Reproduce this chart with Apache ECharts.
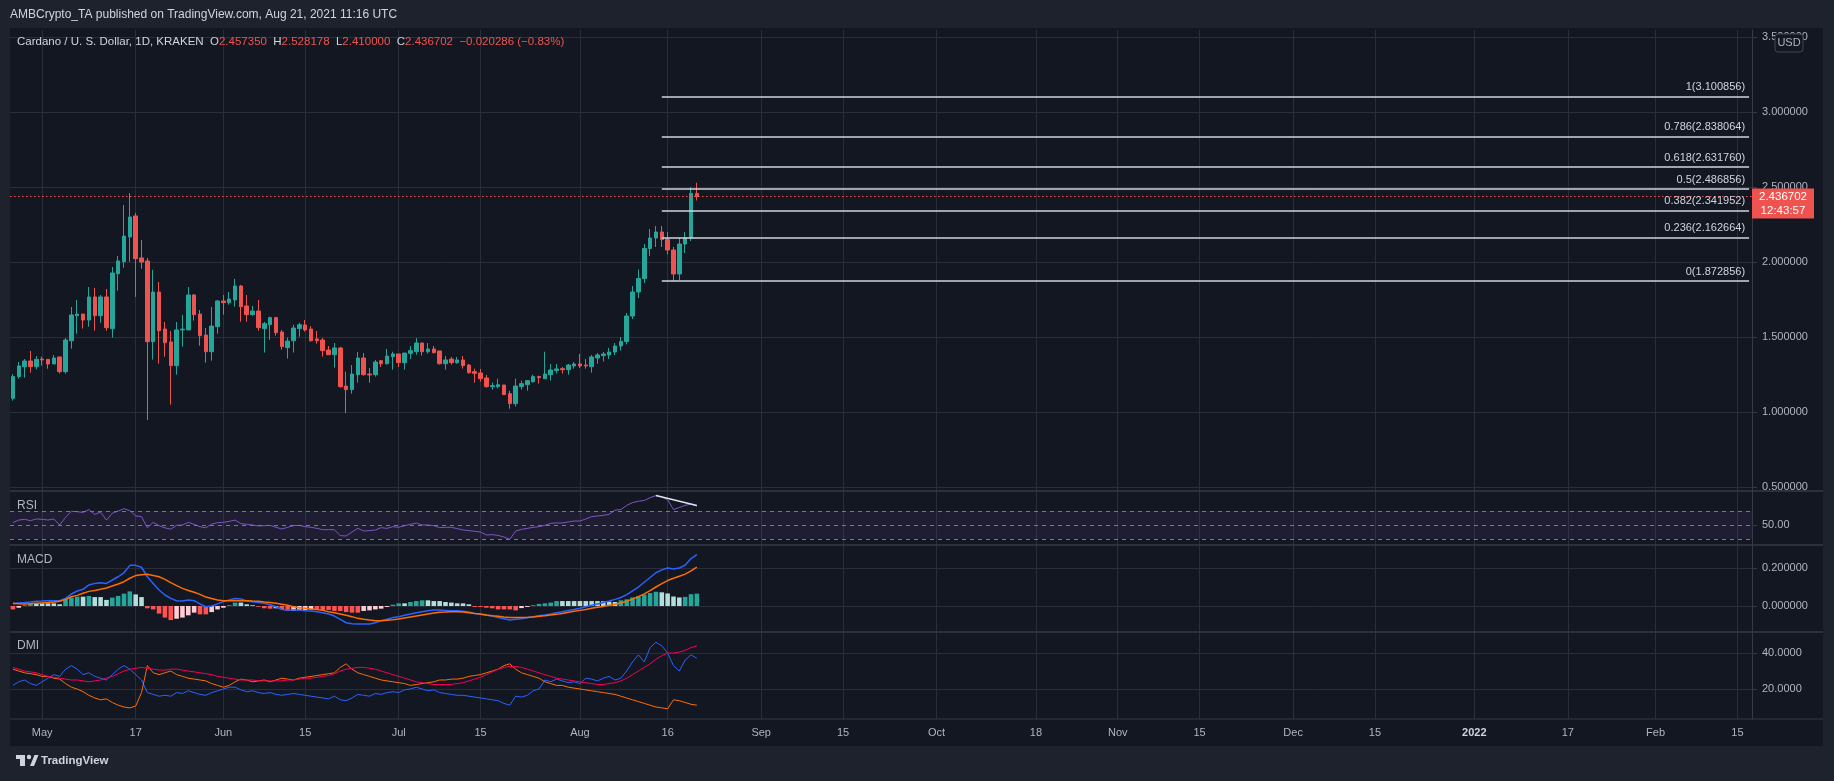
<!DOCTYPE html>
<html><head><meta charset="utf-8">
<script src="https://cdn.jsdelivr.net/npm/echarts@6/dist/echarts.min.js"></script>
<style>html,body{margin:0;padding:0;background:#1e222d;}#c{width:1834px;height:781px;}</style>
</head><body><div id="c"></div><script>
// ---------- DATA ----------
const startDate = '2021-04-26';
const dayCount = 298;
const opens = [1.091,1.236,1.302,1.340,1.302,1.353,1.351,1.320,1.367,1.269,
1.475,1.642,1.653,1.613,1.767,1.642,1.767,1.556,1.922,2.002,
2.167,2.307,2.027,2.007,1.469,1.800,1.553,1.467,1.309,1.547,
1.547,1.780,1.653,1.513,1.402,1.569,1.740,1.729,1.747,1.840,
1.707,1.649,1.673,1.556,1.582,1.629,1.533,1.429,1.475,1.556,
1.580,1.553,1.487,1.480,1.413,1.382,1.427,1.173,1.149,1.249,
1.360,1.253,1.249,1.342,1.322,1.369,1.387,1.329,1.391,1.402,
1.460,1.402,1.420,1.407,1.322,1.353,1.329,1.347,1.313,1.269,
1.260,1.227,1.169,1.169,1.180,1.122,1.056,1.169,1.182,1.202,
1.236,1.222,1.249,1.276,1.289,1.282,1.307,1.320,1.313,1.302,
1.360,1.376,1.380,1.40,1.44,1.47,1.64,1.80,1.89,2.09,
2.16,2.20,2.15,2.08,1.92,2.12,2.16,2.457350];
const closes = [1.236,1.307,1.340,1.302,1.351,1.347,1.320,1.360,1.269,1.480,
1.647,1.653,1.613,1.767,1.642,1.767,1.562,1.927,2.007,2.173,
2.300,2.022,2.000,1.469,1.800,1.542,1.462,1.309,1.547,1.553,
1.780,1.649,1.509,1.402,1.573,1.740,1.729,1.753,1.840,1.702,
1.649,1.673,1.562,1.589,1.629,1.529,1.436,1.473,1.560,1.582,
1.547,1.475,1.475,1.409,1.382,1.427,1.169,1.149,1.253,1.360,
1.249,1.247,1.333,1.322,1.373,1.387,1.329,1.393,1.409,1.460,
1.402,1.420,1.396,1.322,1.347,1.329,1.347,1.309,1.262,1.258,
1.222,1.169,1.176,1.182,1.116,1.056,1.173,1.189,1.209,1.236,
1.229,1.253,1.280,1.287,1.282,1.313,1.320,1.307,1.307,1.367,
1.380,1.387,1.400,1.44,1.47,1.64,1.80,1.89,2.09,2.16,
2.20,2.15,2.08,1.92,2.12,2.16,2.456988,2.436702];
const lows = [1.076,1.222,1.229,1.262,1.284,1.309,1.289,1.320,1.256,1.256,
1.422,1.522,1.556,1.569,1.542,1.595,1.542,1.496,1.809,1.962,
2.002,1.767,1.955,0.947,1.349,1.322,1.369,1.049,1.249,1.436,
1.547,1.609,1.442,1.329,1.342,1.522,1.649,1.716,1.702,1.602,
1.602,1.642,1.542,1.396,1.482,1.509,1.416,1.356,1.396,1.502,
1.536,1.469,1.456,1.369,1.382,1.296,1.162,0.993,1.122,1.196,
1.242,1.196,1.236,1.300,1.316,1.282,1.300,1.282,1.353,1.382,
1.376,1.389,1.389,1.316,1.282,1.316,1.322,1.289,1.256,1.196,
1.202,1.162,1.149,1.156,1.116,1.022,1.036,1.149,1.142,1.196,
1.189,1.222,1.209,1.256,1.256,1.249,1.289,1.293,1.289,1.262,
1.322,1.336,1.353,1.38,1.41,1.45,1.62,1.76,1.86,2.04,
2.10,2.10,2.05,1.872856,1.88,2.06,2.14,2.410000];
const highs = [1.253,1.333,1.353,1.407,1.373,1.369,1.351,1.380,1.367,1.493,
1.700,1.747,1.653,1.833,1.827,1.780,1.820,1.967,2.040,2.380,
2.460,2.327,2.147,2.027,1.947,1.867,1.600,1.540,1.600,1.647,
1.833,1.787,1.680,1.560,1.700,1.747,1.780,1.800,1.887,1.847,
1.780,1.707,1.747,1.600,1.635,1.635,1.547,1.496,1.582,1.595,
1.613,1.573,1.540,1.493,1.440,1.460,1.433,1.269,1.313,1.400,
1.393,1.293,1.347,1.347,1.420,1.402,1.387,1.393,1.440,1.493,
1.460,1.460,1.440,1.407,1.373,1.367,1.367,1.373,1.320,1.289,
1.287,1.247,1.196,1.222,1.180,1.142,1.222,1.209,1.209,1.249,
1.242,1.402,1.320,1.320,1.300,1.320,1.333,1.387,1.353,1.380,
1.393,1.400,1.427,1.46,1.50,1.66,1.84,1.95,2.12,2.22,
2.24,2.24,2.20,2.10,2.16,2.20,2.50,2.528178];
const rsiValues = [53.3,57.1,58.1,56.2,58.6,58.1,57.1,58.6,50,61,
69.5,69,68,72,65,68.5,57,66.7,70,73.3,
70.5,63,62,46,53.8,49,46,44,49.5,50,
53.8,51,47.6,46,51.4,53.3,53.8,55.2,57.1,52,
51,50,48.6,49,49.5,46.7,44.3,46.7,49,49.5,
47.6,46.7,45.2,43.3,43.3,43.3,34.8,34.3,40,45.2,
41.4,42,42.9,46.2,45.2,47.6,46.7,49,51,52.9,
50,50,49,46.2,46.7,46.7,44.8,42.9,42,41,
40,35.7,36.2,35.2,32.9,29.5,41.4,43.8,45.2,46.7,
47.6,49.5,52.4,52.9,52.9,54.3,55.7,55.7,58.6,62,
62.9,63.8,65.2,71.4,72,78,82,84,85,89,
92,90,86,72,75,78,80,77];
const macdValues = [0.012,0.016,0.018,0.021,0.025,0.026,0.028,0.028,0.028,0.040,
0.063,0.079,0.088,0.111,0.119,0.123,0.119,0.137,0.154,0.175,
0.214,0.214,0.204,0.154,0.119,0.084,0.058,0.040,0.028,0.026,
0.032,0.028,0.011,-0.004,0,0.011,0.023,0.032,0.040,0.037,
0.026,0.023,0.018,0.014,0.007,-0.004,-0.018,-0.021,-0.021,-0.021,
-0.025,-0.026,-0.030,-0.035,-0.042,-0.053,-0.070,-0.088,-0.093,-0.095,
-0.095,-0.095,-0.088,-0.077,-0.070,-0.061,-0.056,-0.049,-0.042,-0.035,
-0.030,-0.025,-0.021,-0.021,-0.023,-0.025,-0.025,-0.028,-0.032,-0.039,
-0.044,-0.049,-0.053,-0.060,-0.067,-0.074,-0.070,-0.067,-0.061,-0.056,
-0.051,-0.047,-0.042,-0.035,-0.030,-0.023,-0.018,-0.012,-0.004,0.004,
0.011,0.018,0.026,0.035,0.045,0.06,0.08,0.10,0.125,0.15,
0.175,0.19,0.2,0.195,0.2,0.215,0.25,0.27];
const signalValues = [0.014,0.012,0.011,0.012,0.014,0.016,0.018,0.021,0.025,0.035,
0.049,0.056,0.067,0.077,0.082,0.088,0.095,0.105,0.116,0.128,
0.146,0.160,0.165,0.167,0.161,0.154,0.140,0.123,0.107,0.093,
0.082,0.072,0.061,0.047,0.039,0.032,0.028,0.028,0.028,0.028,
0.028,0.026,0.025,0.021,0.018,0.014,0.009,0.004,-0.004,-0.009,
-0.012,-0.016,-0.019,-0.023,-0.030,-0.035,-0.042,-0.049,-0.056,-0.065,
-0.070,-0.074,-0.077,-0.077,-0.075,-0.072,-0.068,-0.063,-0.058,-0.053,
-0.047,-0.042,-0.037,-0.033,-0.032,-0.030,-0.030,-0.032,-0.035,-0.039,
-0.042,-0.047,-0.051,-0.054,-0.058,-0.060,-0.060,-0.060,-0.060,-0.058,
-0.054,-0.051,-0.047,-0.044,-0.039,-0.033,-0.028,-0.023,-0.018,-0.012,
-0.007,-0.002,0.004,0.009,0.016,0.025,0.036,0.049,0.064,0.081,
0.1,0.118,0.134,0.146,0.157,0.168,0.185,0.205];
const histValues = [-0.018,-0.009,0.004,0.014,0.014,0.014,0.014,0.014,0.009,0.039,
0.044,0.049,0.049,0.053,0.047,0.047,0.032,0.044,0.053,0.065,
0.077,0.061,0.047,-0.012,-0.018,-0.040,-0.061,-0.074,-0.067,-0.061,
-0.049,-0.035,-0.044,-0.044,-0.032,-0.018,-0.009,0.004,0.018,0.018,
0.009,0.004,-0.004,-0.012,-0.014,-0.012,-0.018,-0.026,-0.025,-0.023,
-0.021,-0.018,-0.018,-0.021,-0.021,-0.026,-0.026,-0.032,-0.035,-0.035,
-0.026,-0.023,-0.018,-0.014,-0.005,0.007,0.014,0.014,0.021,0.026,
0.030,0.030,0.026,0.026,0.021,0.018,0.014,0.014,0.009,-0.005,
-0.005,-0.009,-0.012,-0.018,-0.018,-0.018,-0.023,-0.011,-0.005,0.004,
0.011,0.014,0.018,0.026,0.026,0.026,0.026,0.026,0.026,0.026,
0.026,0.025,0.023,0.021,0.03,0.035,0.045,0.052,0.06,0.068,
0.075,0.072,0.066,0.05,0.045,0.048,0.062,0.065];
const plusDI = [22,24,25,23,22,24,26,28,27,31,
33,31,28,29,27,26,25,28,31,33,
31,28,25,18,17,16,16.5,16,18,17.5,
19,18,17,16.5,18,19,20,21,21,19.5,
18.5,19,18,17.5,18,17,16.5,17,17.5,17,
16.5,16,15.5,15,14.5,16,14,13.5,15,17,
16.5,16,17.5,17,18,18.5,18,19.5,20,21,
20,19,19.5,18,17.5,17,16.5,16.5,16,15.5,
15,14.5,14,13.5,12,11,16,15.5,16.5,19,
20,25,24,25.5,24.5,23.5,24,23,26,25.5,
24.5,26,27,25,26,30,35,39,35,43,
46,44,40,33,30,36,39,37];
const minusDI = [31,30,29,28.5,28,27,27,26,25.5,23,
21,20,18.5,16.5,15,14,14.5,12.5,11,10,
9.5,10.5,18,33,29,28,29,30,28,27,
26,25.5,25,24.5,23,22,21,22,24,25.5,
25,24,24.5,25,24,25,26,25.5,25,26,
26.5,27,27.5,28,28.5,29,32,34,31,29,
28,27,26,25,24.5,24,23.5,23,22,22.5,
23,23.5,24,25,25,25.5,25.5,26,27,27.5,
28,29,30,31,33,34,31,29,28,27,
26,24,23,22,22,21,20.5,20,19.5,19,
18.5,18,17.5,17,16,15,14,13,12,11,
10,9.5,9,14,13.5,12.5,11.5,11];
const adxValues = [32,31,30,29.5,29,28,27,26.5,26,25.5,
25,25,24.5,24,24.5,25,26,27,28.5,30,
31,31.5,32,31.5,31,30.5,30.5,31,31,30.5,
30,29.5,29,28.5,28,27,26.5,26,25.5,25,
25,25,24.5,24.5,24.5,24.5,24.5,25,25,25.5,
26,26,26.5,27,27.5,28.5,30,31,31.5,32,
32,31.5,31,30,29,28,27,26,25,24,
23.5,23,22.5,22.5,22.5,22.5,23,23.5,24.5,25.5,
26.5,28,29.5,31,32,32.5,32.5,32,31,30,
29,28,27,26,25.5,25,24.5,24,23.5,23,
22.5,22.5,23,23.5,24.5,26,28,30,32,34,
36.5,38.5,40,40,40.5,41.5,43,44];
const fibRatios = [1, 0.786, 0.618, 0.5, 0.382, 0.236, 0];
const fibPrices = [3.100856, 2.838064, 2.631760, 2.486856, 2.341952, 2.162664, 1.872856];
const fibStartDate = '2021-08-15';
const rsiDivergence = [['2021-08-14', 92], ['2021-08-21', 78]];
const priceTicks = [0.5, 1, 1.5, 2, 2.5, 3, 3.5];
const rsiTicks = [50];
const macdTicks = [0, 0.2];
const dmiTicks = [20, 40];
const tickDates = ['2021-05-01','2021-05-17','2021-06-01','2021-06-15','2021-07-01','2021-07-15','2021-08-01','2021-08-16','2021-09-01','2021-09-15','2021-10-01','2021-10-18','2021-11-01','2021-11-15','2021-12-01','2021-12-15','2022-01-01','2022-01-17','2022-02-01','2022-02-15'];
const tickTexts = ['May','17','Jun','15','Jul','15','Aug','16','Sep','15','Oct','18','Nov','15','Dec','15','2022','17','Feb','15'];
const headerTitle = 'AMBCrypto_TA published on TradingView.com, Aug 21, 2021 11:16 UTC';
const symbolName = 'Cardano / U. S. Dollar, 1D, KRAKEN';
const countdown = '12:43:57';

// ---------- BUILD ----------
const FONT = '"Liberation Sans", Arial, sans-serif';
const UP = '#26a69a', DOWN = '#ef5350';
const dates = [];
(function(){ const [y,m,d] = startDate.split('-').map(Number); const t0 = Date.UTC(y,m-1,d);
  for (let i=0;i<dayCount;i++) dates.push(new Date(t0 + i*86400000).toISOString().slice(0,10)); })();
const tickMap = {}; tickDates.forEach((d,i)=>tickMap[d]=tickTexts[i]);
const n = opens.length;
const candleData = opens.map((o,i)=>[o, closes[i], lows[i], highs[i]]);
const last = n-1;
const change = closes[last]-closes[last-1];
const changePct = change/closes[last-1]*100;
const fmtSigned = v => (v<0?'\u2212':'+') + Math.abs(v);

const grids = [{top:30,h:461},{top:491,h:54},{top:545,h:87},{top:632,h:87}];
const yRanges = [[0.4733,3.5467],[21.43,98.57],[-0.1368,0.3211],[3.33,51.67]];
const yTicks = [priceTicks, rsiTicks, macdTicks, dmiTicks];
const yFmt = [v=>v.toFixed(6), v=>v.toFixed(2), v=>v.toFixed(6), v=>v.toFixed(4)];
const gridColor = '#2a2e39';

const xAxes = grids.map((g,i)=>({
  type:'category', gridIndex:i, data:dates, boundaryGap:true,
  axisLine:{show:false}, axisTick:{show:false},
  axisLabel:{show:i===3, interval:(idx,val)=>tickMap[val]!==undefined, margin:8,
    color:'#b2b5be', fontSize:11, fontFamily:FONT,
    formatter:(val)=> val==='2022-01-01' ? '{b|'+tickMap[val]+'}' : tickMap[val],
    rich:{b:{fontWeight:'bold', color:'#d1d4dc', fontSize:11, fontFamily:FONT}}},
  splitLine:{show:true, interval:(idx,val)=>tickMap[val]!==undefined, alignWithLabel:true, lineStyle:{color:gridColor, width:1}}
}));
const yAxes = grids.map((g,i)=>({
  type:'value', gridIndex:i, position:'right', min:yRanges[i][0], max:yRanges[i][1],
  axisLine:{show:true, lineStyle:{color:'#363a45'}},
  axisTick:{show:true, customValues:yTicks[i], length:5, lineStyle:{color:'#363a45'}},
  axisLabel:{customValues:yTicks[i], margin:10, color:'#b2b5be', fontSize:11, fontFamily:FONT, formatter:yFmt[i], showMinLabel:true, showMaxLabel:true},
  splitLine:{show:i!==1, lineStyle:{color:gridColor, width:1}}
}));

const fibMark = fibRatios.map((r,i)=>{
  const p = fibPrices[i];
  const lbl = {show:true, position:'insideEndTop', formatter: r + '(' + p.toFixed(6) + ')', color:'#d1d4dc', fontSize:11, fontFamily:FONT, distance:4};
  const ls = {color:'#d1d4dc', width:1.5, type:'solid'};
  return [{coord:[fibStartDate, p], lineStyle:ls, label:lbl}, {coord:[dates[dates.length-1], p], lineStyle:ls, label:lbl}];
});

const histColors = histValues.map((v,i)=>{
  const prev = i>0 ? histValues[i-1] : 0;
  if (v>=0) return prev < v ? '#26a69a' : '#b2dfdb';
  return prev < v ? '#ffcdd2' : '#ff5252';
});

const option = {
  backgroundColor:'#131722',
  animation:false,
  textStyle:{fontFamily:FONT},
  grid: grids.map(g=>({left:10, right:82, top:g.top, height:g.h, show:false, containLabel:false, outerBoundsMode:'none'})),
  xAxis: xAxes,
  yAxis: yAxes,
  series: [
    {type:'candlestick', xAxisIndex:0, yAxisIndex:0, data:candleData, barWidth:4,
      itemStyle:{color:UP, color0:DOWN, borderColor:UP, borderColor0:DOWN, borderWidth:1},
      markLine:{silent:true, symbol:['none','none'], animation:false, emphasis:{disabled:true},
        data:[{yAxis:closes[last], lineStyle:{color:DOWN, type:[1.5,2.5], width:1.2}, label:{show:false}}].concat(fibMark)}},
    {type:'line', xAxisIndex:1, yAxisIndex:1, data:rsiValues, symbol:'none', lineStyle:{color:'#7e57c2', width:1}, itemStyle:{color:'#7e57c2'},
      markArea:{silent:true, itemStyle:{color:'rgba(126,87,194,0.1)'}, data:[[{yAxis:30},{yAxis:70}]]},
      markLine:{silent:true, symbol:['none','none'], emphasis:{disabled:true},
        data:[{yAxis:70},{yAxis:50},{yAxis:30}].map(d=>Object.assign(d,{lineStyle:{color:'#787b86', type:[4,4], width:1}, label:{show:false}}))
          .concat([[{coord:rsiDivergence[0], lineStyle:{color:'#e0e3eb', width:1.5, type:'solid'}, label:{show:false}},{coord:rsiDivergence[1], lineStyle:{color:'#e0e3eb', width:1.5, type:'solid'}, label:{show:false}}]])}},
    {type:'bar', xAxisIndex:2, yAxisIndex:2, data:histValues.map((v,i)=>({value:v, itemStyle:{color:histColors[i]}})), barWidth:'78%'},
    {type:'line', xAxisIndex:2, yAxisIndex:2, data:macdValues, symbol:'none', lineStyle:{color:'#2962ff', width:1.5}},
    {type:'line', xAxisIndex:2, yAxisIndex:2, data:signalValues, symbol:'none', lineStyle:{color:'#ff6d00', width:1.5}},
    {type:'line', xAxisIndex:3, yAxisIndex:3, data:plusDI, symbol:'none', lineStyle:{color:'#2962ff', width:1}},
    {type:'line', xAxisIndex:3, yAxisIndex:3, data:minusDI, symbol:'none', lineStyle:{color:'#ff6d00', width:1}},
    {type:'line', xAxisIndex:3, yAxisIndex:3, data:adxValues, symbol:'none', lineStyle:{color:'#f50057', width:1}}
  ]
};
const chart = echarts.init(document.getElementById('c'), null, {width:1834, height:781});
chart.setOption(option);

const pt = chart.convertToPixel({gridIndex:0}, [dates[last], closes[last]]);
const yC = pt[1];
const frame = '#1e222d';
const SF = '11.5px '+FONT;
const els = [
  {type:'rect', shape:{x:0,y:0,width:1834,height:28}, style:{fill:frame}, z:50},
  {type:'rect', shape:{x:0,y:0,width:10,height:781}, style:{fill:frame}, z:50},
  {type:'rect', shape:{x:1823,y:0,width:11,height:781}, style:{fill:frame}, z:50},
  {type:'rect', shape:{x:0,y:746,width:1834,height:35}, style:{fill:frame}, z:50},
  {type:'line', shape:{x1:10,y1:491,x2:1823,y2:491}, style:{stroke:'#363a45', lineWidth:1.5}, z:40},
  {type:'line', shape:{x1:10,y1:545,x2:1823,y2:545}, style:{stroke:'#363a45', lineWidth:1.5}, z:40},
  {type:'line', shape:{x1:10,y1:632,x2:1823,y2:632}, style:{stroke:'#363a45', lineWidth:1.5}, z:40},
  {type:'line', shape:{x1:10,y1:719,x2:1823,y2:719}, style:{stroke:'#363a45', lineWidth:1}, z:40},
  {type:'text', style:{x:10, y:15, text:headerTitle, fill:'#d1d4dc', font:'12px '+FONT, verticalAlign:'middle'}, z:60},
  {type:'text', style:{x:17, y:42, verticalAlign:'middle', font:SF,
    text:'{a|'+symbolName+'}  {a|O}{r|'+opens[last].toFixed(6)+'}  {a|H}{r|'+highs[last].toFixed(6)+'}  {a|L}{r|'+lows[last].toFixed(6)+'}  {a|C}{r|'+closes[last].toFixed(6)+'}  {r|'+fmtSigned(+change.toFixed(6))+' ('+fmtSigned(+changePct.toFixed(2))+'%)}',
    rich:{a:{fill:'#d1d4dc', font:SF}, r:{fill:'#ef5350', font:SF}}}, z:60},
  {type:'text', style:{x:17, y:506, text:'RSI', fill:'#b2b5be', font:'12px '+FONT, verticalAlign:'middle'}, z:60},
  {type:'text', style:{x:17, y:560, text:'MACD', fill:'#b2b5be', font:'12px '+FONT, verticalAlign:'middle'}, z:60},
  {type:'text', style:{x:17, y:646, text:'DMI', fill:'#b2b5be', font:'12px '+FONT, verticalAlign:'middle'}, z:60},
  {type:'rect', shape:{x:1775,y:34,width:28,height:18,r:3}, style:{fill:'#131722', stroke:'#434651', lineWidth:1}, z:60},
  {type:'text', style:{x:1789, y:43, text:'USD', fill:'#b2b5be', font:'11px '+FONT, align:'center', verticalAlign:'middle'}, z:61},
  {type:'rect', shape:{x:1752,y:yC-8,width:62,height:30}, style:{fill:'#ef5350'}, z:60},
  {type:'text', style:{x:1783, y:yC, text:closes[last].toFixed(6), fill:'#ffffff', font:'11.5px '+FONT, align:'center', verticalAlign:'middle'}, z:61},
  {type:'text', style:{x:1783, y:yC+14, text:countdown, fill:'#ffffff', font:'11.5px '+FONT, align:'center', verticalAlign:'middle'}, z:61},
  {type:'rect', shape:{x:16,y:755,width:9,height:4}, style:{fill:'#d1d4dc'}, z:61},
  {type:'rect', shape:{x:20,y:755,width:5,height:11}, style:{fill:'#d1d4dc'}, z:61},
  {type:'circle', shape:{cx:29,cy:757,r:2.2}, style:{fill:'#d1d4dc'}, z:61},
  {type:'polygon', shape:{points:[[30,766],[34.5,755],[38.5,755],[34,766]]}, style:{fill:'#d1d4dc'}, z:61},
  {type:'text', style:{x:41, y:761, text:'TradingView', fill:'#d1d4dc', font:'bold 11.5px '+FONT, verticalAlign:'middle'}, z:61}
];
chart.setOption({graphic:{elements:els}});
</script></body></html>
